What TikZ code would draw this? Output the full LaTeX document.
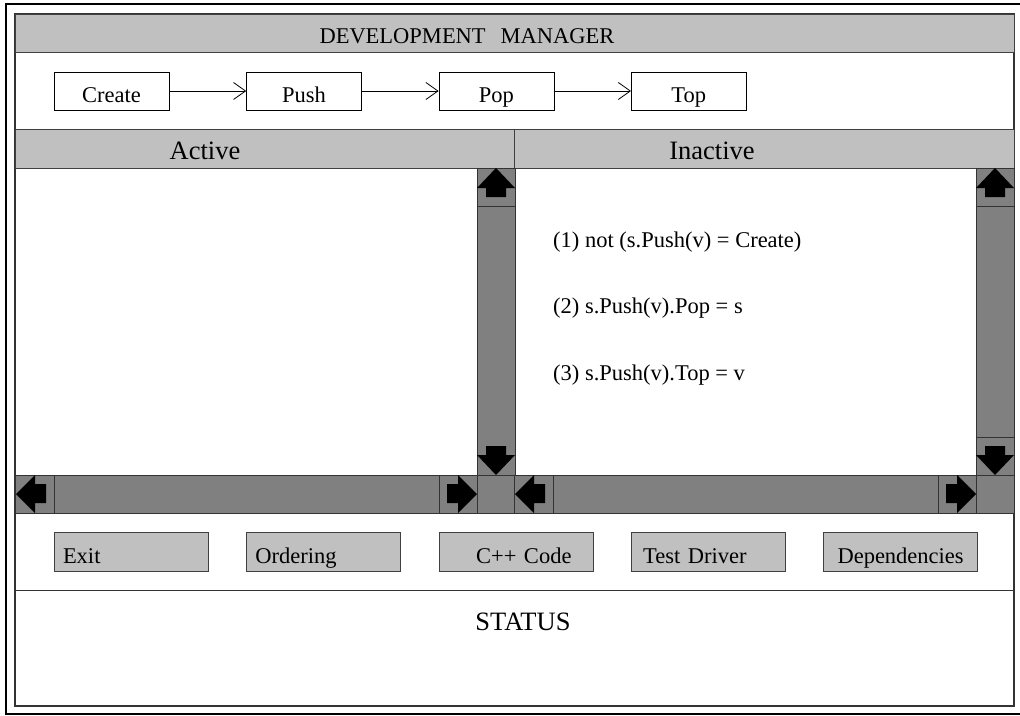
\documentclass[tikz,border=0pt]{standalone}
\usepackage{fontspec}
\setmainfont{Liberation Serif}
\usetikzlibrary{positioning,arrows.meta}
\definecolor{hdrgray}{HTML}{C0C0C0}
\definecolor{bargray}{HTML}{808080}

\begin{document}
\begin{tikzpicture}[x=1pt, y=-1pt, every node/.style={font=\fontsize{22.5}{27}\selectfont, inner sep=0pt, text height=22pt, text depth=0pt},
  big/.style={font=\fontsize{26.5}{31}\selectfont, text height=24pt, text depth=0pt},
  opbox/.style={draw, fill=white, minimum width=115pt, minimum height=38pt},
  btn/.style={draw=black!75, fill=hdrgray, minimum width=154pt, minimum height=39pt, text width=136pt},
  band/.style={fill=hdrgray, draw=black!75, line width=1pt},
  bar/.style={fill=bargray, draw=black!80, line width=0.8pt},
  tip/.style={fill=black},
  arr/.style={-{Straight Barb[length=12pt, width=17pt]}, line width=0.8pt}]
\useasboundingbox (0,0) rectangle (1020,715);
% outer and inner frame
\draw[line width=2pt] (1021,4) -- (6,4) -- (6,714) -- (1021,714);
\draw[black!80, line width=1.5pt] (15,14) rectangle (1014,706);
% title band
\draw[band] (15,14) rectangle (1014,52);
\node (title) at (467,32) {DEVELOPMENT\hspace{15pt}MANAGER};
% operations row
\node[opbox] (create) at (111.5,91) {Create};
\node[opbox, right=77pt of create] (push) {Push};
\node[opbox, right=77pt of push] (pop) {Pop};
\node[opbox, right=77pt of pop] (top) {Top};
\draw[arr] (create) -- (push);
\draw[arr] (push) -- (pop);
\draw[arr] (pop) -- (top);
% panel headers
\draw[band] (15,129) rectangle (514,168);
\draw[band] (514,129) rectangle (1014,168);
\node[big] (active) at (205,147) {Active};
\node[big] (inactive) at (712,147) {Inactive};
% scroll bars of both panels
\foreach \dx in {0,499} {
  \draw[bar] (477+\dx,168) rectangle (515+\dx,475);
  \draw[bar] (15+\dx,475) rectangle (477+\dx,513);
  \draw[bar] (477+\dx,475) rectangle (515+\dx,513);
  \draw[black!80, line width=0.8pt] (477+\dx,206) -- (515+\dx,206);
  \draw[black!80, line width=0.8pt] (54+\dx,475) -- (54+\dx,513);
  \draw[black!80, line width=0.8pt] (439+\dx,475) -- (439+\dx,513);
  \fill[tip] (496+\dx,168) -- ++(19,20) -- ++(-9,0) -- ++(0,9) -- ++(-20,0) -- ++(0,-9) -- ++(-9,0) -- cycle;
  \fill[tip] (496+\dx,475) -- ++(19,-20) -- ++(-9,0) -- ++(0,-9) -- ++(-20,0) -- ++(0,9) -- ++(-9,0) -- cycle;
  \fill[tip] (16+\dx,494) -- ++(19,-19) -- ++(0,9) -- ++(11,0) -- ++(0,19) -- ++(-11,0) -- ++(0,10) -- cycle;
  \fill[tip] (477+\dx,494) -- ++(-19,-19) -- ++(0,9) -- ++(-11,0) -- ++(0,19) -- ++(11,0) -- ++(0,10) -- cycle;
}
\draw[black!80, line width=0.8pt] (976,437) -- (1014,437);
% properties
\node[anchor=west] (ax1) at (553,236) {(1) not (s.Push(v) = Create)};
\node[anchor=west] (ax2) at (553,302) {(2) s.Push(v).Pop = s};
\node[anchor=west] (ax3) at (553,369) {(3) s.Push(v).Top = v};
% buttons
\node[btn, align=left] (exit) at (131,552) {Exit};
\node[btn, align=left, right=38pt of exit] (ordering) {Ordering};
\node[btn, align=center, right=38pt of ordering] (code) {\hspace{16pt}C++ Code};
\node[btn, align=left, right=38pt of code] (driver) {\hspace{3pt}Test Driver};
\node[btn, align=center, right=38pt of driver] (deps) {Dependencies};
% status
\draw[black!80, line width=1pt] (15,590) -- (1014,590);
\node[big] (status) at (523,618) {STATUS};
\end{tikzpicture}
\end{document}
